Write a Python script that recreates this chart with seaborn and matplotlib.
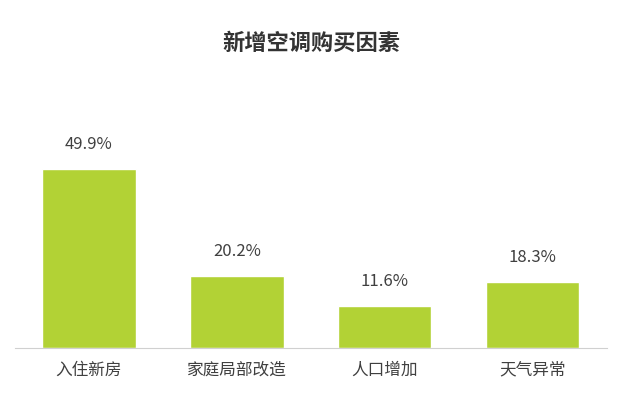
import matplotlib
matplotlib.use("Agg")
import matplotlib.pyplot as plt
import seaborn as sns
import pandas as pd

categories = ["入住新房", "家庭局部改造", "人口增加", "天气异常"]
values = [49.9, 20.2, 11.6, 18.3]
labels = ["49.9%", "20.2%", "11.6%", "18.3%"]

sns.set_style("white")
plt.rcParams['font.family'] = ['Noto Sans CJK SC', 'DejaVu Sans']

fig = plt.figure(figsize=(6.23, 4.18), dpi=100)
ax = fig.add_axes([0.024, 0.1675, 0.950, 0.617])
df = pd.DataFrame({"cat": categories, "val": values})
sns.barplot(data=df, x="cat", y="val", color="#b2d235", saturation=1, width=0.63, ax=ax)
ax.set_xlim(-0.5, 3.5)
ax.set_ylim(0, 72)
for i, (v, t) in enumerate(zip(values, labels)):
    ax.text(i, v + 4.5, t, ha="center", va="bottom", fontsize=12, color="#404040")
ax.set_xlabel("")
ax.set_ylabel("")
ax.set_yticks([])
ax.tick_params(axis="x", length=0, labelsize=12, labelcolor="#404040", pad=10)
for s in ["top", "left", "right"]:
    ax.spines[s].set_visible(False)
ax.spines["bottom"].set_color("#d0d0d0")
fig.text(0.5, 0.895, "新增空调购买因素", ha="center", va="center", fontsize=16, fontweight="bold", color="#333333")
fig.savefig("out.png", dpi=100)
